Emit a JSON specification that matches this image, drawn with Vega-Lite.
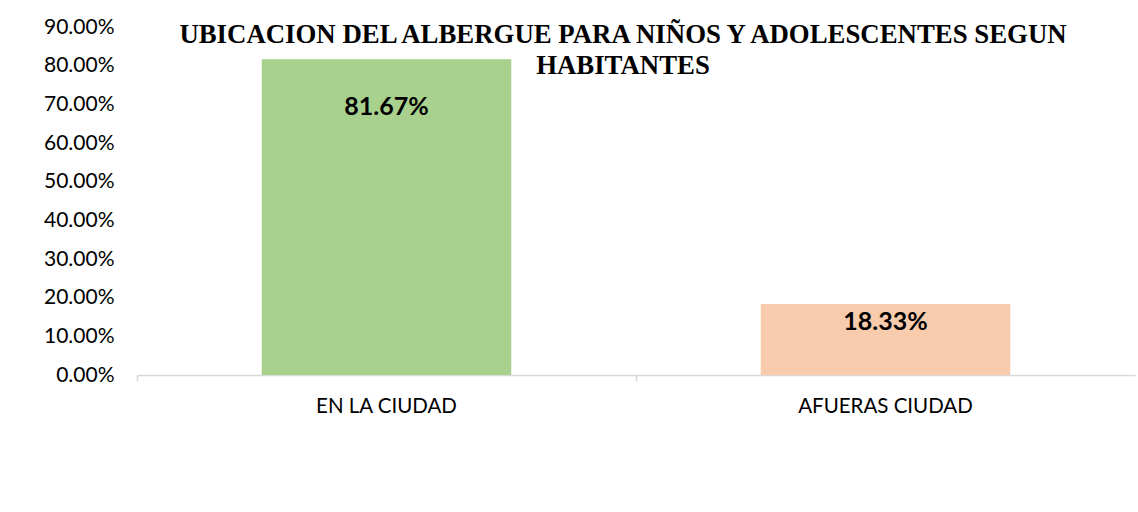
{
  "$schema": "https://vega.github.io/schema/vega-lite/v6.json",
  "autosize": {"type": "none"},
  "width": 998,
  "height": 348,
  "padding": {"left": 137, "top": 27, "right": 3, "bottom": 137},
  "background": "white",
  "config": {"view": {"stroke": null}},
  "title": {
    "text": ["UBICACION DEL ALBERGUE PARA NIÑOS Y ADOLESCENTES SEGUN", "HABITANTES"],
    "font": "Liberation Serif",
    "fontSize": 26.8,
    "fontWeight": "bold",
    "color": "#000000",
    "anchor": "middle",
    "frame": "group",
    "baseline": "top",
    "lineHeight": 31,
    "offset": -64,
    "dx": -13
  },
  "data": {
    "values": [
      {"ubicacion": "EN LA CIUDAD", "porcentaje": 0.8167},
      {"ubicacion": "AFUERAS CIUDAD", "porcentaje": 0.1833}
    ]
  },
  "encoding": {
    "x": {
      "field": "ubicacion",
      "type": "nominal",
      "sort": null,
      "scale": {"paddingInner": 0.5, "paddingOuter": 0.25},
      "axis": {
        "title": null,
        "labelAngle": 0,
        "labelFont": "Lato",
        "labelFontSize": 20.5,
        "labelColor": "#000000",
        "labelPadding": 15,
        "domainColor": "#D9D9D9",
        "domainWidth": 1.5,
        "tickColor": "#D9D9D9",
        "tickWidth": 1.5,
        "tickSize": 6,
        "bandPosition": -0.5
      }
    },
    "y": {
      "field": "porcentaje",
      "type": "quantitative",
      "scale": {"domain": [0, 0.9], "nice": false},
      "axis": {
        "title": null,
        "format": ".2%",
        "values": [0, 0.1, 0.2, 0.3, 0.4, 0.5, 0.6, 0.7, 0.8, 0.9],
        "grid": false,
        "domain": false,
        "ticks": false,
        "tickSize": 0,
        "labelPadding": 23,
        "labelFont": "Lato",
        "labelFontSize": 21,
        "labelColor": "#000000"
      }
    }
  },
  "layer": [
    {
      "mark": {"type": "bar"},
      "encoding": {
        "color": {
          "field": "ubicacion",
          "type": "nominal",
          "scale": {"domain": ["EN LA CIUDAD", "AFUERAS CIUDAD"], "range": ["#A9D18E", "#F8CBAD"]},
          "legend": null
        }
      }
    },
    {
      "transform": [{"filter": "datum.ubicacion === 'EN LA CIUDAD'"}],
      "mark": {"type": "text", "font": "Lato", "fontSize": 25, "fontWeight": "bold", "color": "#000000", "baseline": "middle", "dy": 48},
      "encoding": {"text": {"field": "porcentaje", "type": "quantitative", "format": ".2%"}}
    },
    {
      "transform": [{"filter": "datum.ubicacion === 'AFUERAS CIUDAD'"}],
      "mark": {"type": "text", "font": "Lato", "fontSize": 25, "fontWeight": "bold", "color": "#000000", "baseline": "middle", "dy": 18},
      "encoding": {"text": {"field": "porcentaje", "type": "quantitative", "format": ".2%"}}
    }
  ]
}
